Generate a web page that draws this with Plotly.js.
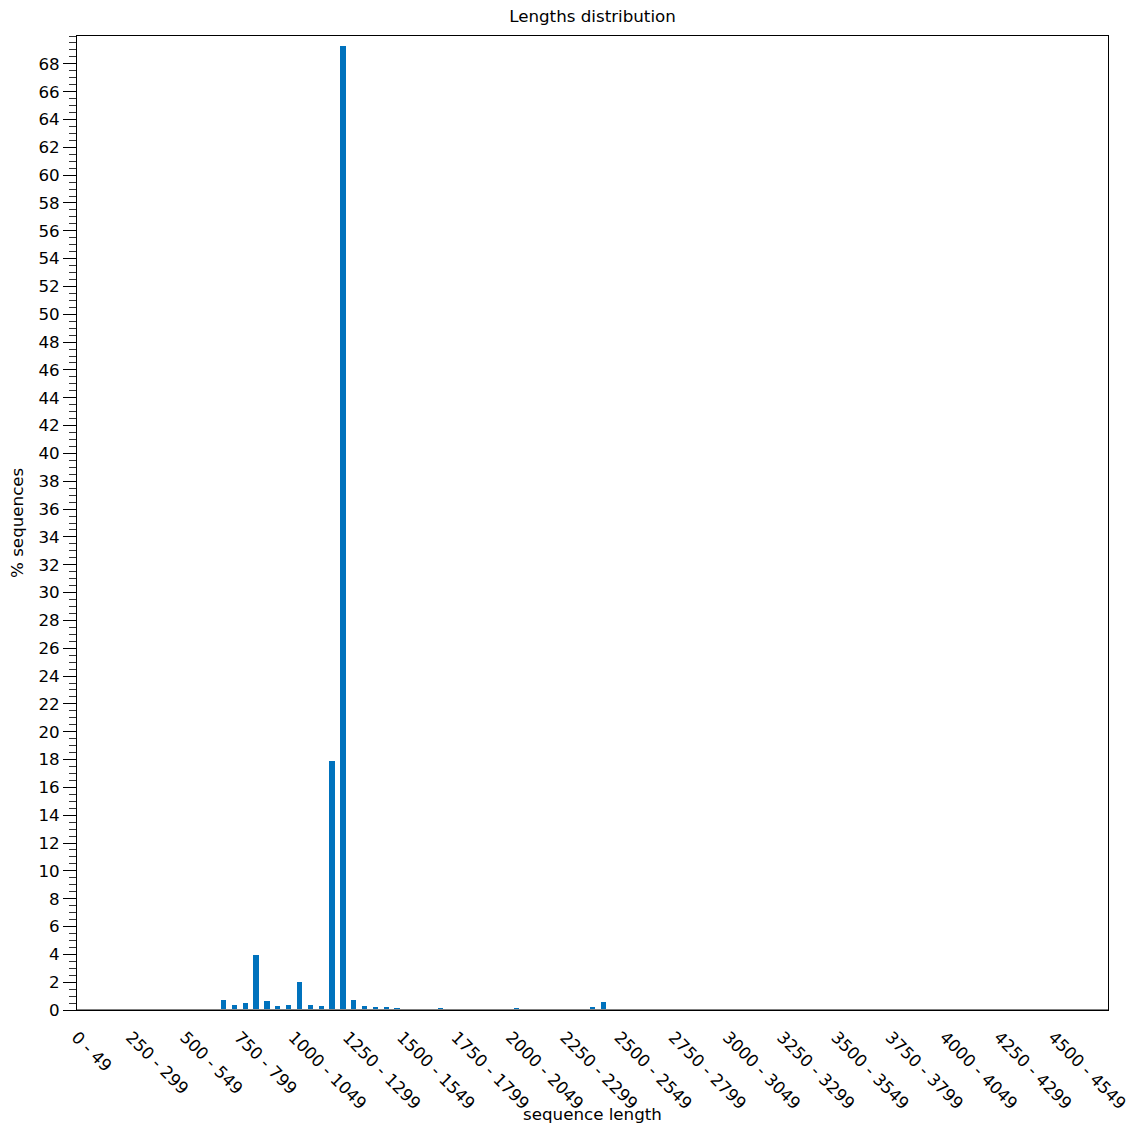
<!DOCTYPE html>
<html>
<head>
<meta charset="utf-8">
<script src="https://cdn.plot.ly/plotly-3.0.1.min.js"></script>
<style>html,body{margin:0;padding:0;background:#fff;}#chart{width:1134px;height:1126px;}</style>
</head>
<body>
<div id="chart"></div>
<script>
// bin lower bounds (width 50): 0 .. 4700
var binStarts = [];
for (var s = 0; s <= 4700; s += 50) binStarts.push(s);
var categories = binStarts.map(function (b) { return b + ' - ' + (b + 49); });

// % sequences per bin (bins not listed are 0)
var percentValues = [
  0, 0, 0, 0, 0, 0, 0, 0, 0, 0,          // 0 - 499
  0, 0, 0.07, 0.72, 0.36, 0.5, 3.95, 0.65, 0.29, 0.36,   // 500 - 999
  1.98, 0.36, 0.29, 17.9, 69.3, 0.72, 0.29, 0.22, 0.19, 0.11, // 1000 - 1499
  0.07, 0, 0.07, 0.11, 0, 0, 0, 0.07, 0, 0,  // 1500 - 1999
  0.11, 0, 0, 0, 0, 0, 0, 0.25, 0.55, 0,   // 2000 - 2499
  0, 0, 0, 0, 0, 0, 0, 0, 0, 0,
  0, 0, 0, 0, 0, 0, 0, 0, 0, 0,
  0, 0, 0, 0, 0, 0, 0, 0, 0, 0,
  0, 0, 0, 0, 0, 0, 0, 0, 0, 0,
  0, 0, 0, 0, 0
];

// labelled ticks: every 5th bin
var tickLabels = categories.filter(function (c, i) { return i % 5 === 0 && i <= 90; });
var yTickVals = [];
for (var v = 0; v <= 68; v += 2) yTickVals.push(v);

var font = 'DejaVu Sans, sans-serif';
var fs = 16.7;

var trace = {
  type: 'bar',
  x: categories,
  y: percentValues,
  width: 0.49,
  marker: {color: '#0072bd', line: {width: 0}},
  hoverinfo: 'x+y'
};

var layout = {
  width: 1134,
  height: 1126,
  margin: {l: 77, r: 26, t: 36, b: 116, pad: 0},
  paper_bgcolor: '#ffffff',
  plot_bgcolor: '#ffffff',
  showlegend: false,
  font: {family: font, size: fs, color: '#000'},
  title: {
    text: 'Lengths distribution',
    font: {family: font, size: fs, color: '#000'},
    x: 0.5225, xanchor: 'center',
    y: 0.986, yanchor: 'middle'
  },
  xaxis: {
    type: 'category',
    categoryorder: 'array',
    categoryarray: categories,
    range: [-0.5, 94.5],
    tickmode: 'array',
    tickvals: tickLabels,
    ticktext: tickLabels,
    tickangle: 45,
    ticks: '',
    ticklabelstandoff: 10,
    ticklabelshift: -6,
    showgrid: false,
    zeroline: false,
    showline: true,
    linecolor: '#000',
    linewidth: 1,
    mirror: true,
    tickfont: {family: font, size: fs, color: '#000'},
    automargin: false
  },
  yaxis: {
    range: [0, 70],
    tickmode: 'array',
    tickvals: yTickVals,
    ticks: 'outside',
    ticklen: 13,
    tickwidth: 1,
    tickcolor: '#000',
    minor: {ticks: 'outside', tickmode: 'linear', tick0: 0, dtick: 0.5, ticklen: 7, tickwidth: 1, tickcolor: '#333', showgrid: false},
    showgrid: false,
    zeroline: false,
    showline: true,
    linecolor: '#000',
    linewidth: 1,
    mirror: true,
    tickfont: {family: font, size: fs, color: '#000'},
    automargin: false
  },
  annotations: [
    {text: 'sequence length', xref: 'paper', yref: 'paper', x: 0.5, y: -0.107, xanchor: 'center', yanchor: 'middle',
     showarrow: false, font: {family: font, size: fs, color: '#000'}},
    {text: '% sequences', xref: 'paper', yref: 'paper', x: -0.0582, y: 0.5, xanchor: 'center', yanchor: 'middle',
     textangle: -90, showarrow: false, font: {family: font, size: fs, color: '#000'}}
  ],
  shapes: [{
    type: 'line', xref: 'paper', yref: 'y',
    x0: 0, x1: 1, y0: 0, y1: 0,
    line: {color: '#808080', width: 2},
    layer: 'above'
  }],
  bargap: 0
};

Plotly.newPlot('chart', [trace], layout, {displayModeBar: false, staticPlot: true});
</script>
</body>
</html>
